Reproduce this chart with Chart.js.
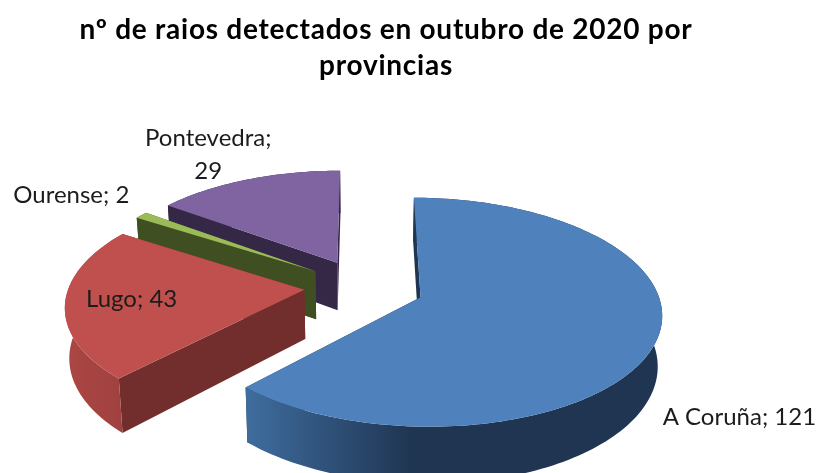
<!DOCTYPE html>
<html>
<head>
<meta charset="utf-8">
<style>
html, body { margin: 0; padding: 0; background: #fff; overflow: hidden; }
#wrap { width: 816px; height: 473px; }
</style>
<script src="https://cdn.jsdelivr.net/npm/chart.js@4/dist/chart.umd.min.js"></script>
</head>
<body>
<div id="wrap"><canvas id="chart"></canvas></div>
<script>
const provincias = ['A Coruña', 'Lugo', 'Ourense', 'Pontevedra'];
const raios = [121, 43, 2, 29];
const titulo = ['nº de raios detectados en outubro de 2020 por', 'provincias'];

const coresTopo = ['#4f81bd', '#c0504d', '#9bbb59', '#8064a2'];
const coresRadial = ['#1f3552', '#722e2c', '#3f4f22', '#352847'];
const coresArcoEsq = ['#3f6d9f', '#ab4643', '#3f4f22', '#352847'];
const coresArcoDir = ['#1f3552', '#a04140', '#3f4f22', '#352847'];

// perspectiva do prato
const explosao = [0.26, 0.25, 0.25, 0.25];
const fuga = 0.13;
const escalaX = 1.262;
const escalaY = 0.588;
const fundo = 49;
const encolheBase = 0.985;
const deslocX = -23;

// etiquetas: raio relativo da fatia e ajuste em px
const etiquetas = [
  { raio: 1, dx: 83, dy: 76, linhas: ['A Coruña; 121'] },
  { raio: 0.7, dx: -6, dy: 0, linhas: ['Lugo; 43'] },
  { raio: 1, dx: -70, dy: -20, linhas: ['Ourense; 2'] },
  { raio: 1, dx: -39, dy: -25, linhas: ['Pontevedra;', '29'] }
];

// passa um ponto do plano da tarte para o ecrã
function projetar(arc, u, v, baixo) {
  const w = 1 - fuga * v;
  const R = arc.outerRadius;
  const base = baixo ? encolheBase : 1;
  return {
    x: arc.x + deslocX + base * escalaX * R * u / w,
    y: arc.y + escalaY * R * v / w + (baixo ? fundo / w : 0)
  };
}

function contorno(ctx, pts) {
  ctx.beginPath();
  pts.forEach((p, i) => i ? ctx.lineTo(p.x, p.y) : ctx.moveTo(p.x, p.y));
  ctx.closePath();
}

function desenharFatia(ctx, arc, i) {
  const meio = (arc.startAngle + arc.endAngle) / 2;
  const cu = Math.cos(meio) * explosao[i];
  const cv = Math.sin(meio) * explosao[i];
  const n = Math.max(4, Math.ceil((arc.endAngle - arc.startAngle) * 40));
  const borda = [];
  for (let k = 0; k <= n; k++) {
    const a = arc.startAngle + (arc.endAngle - arc.startAngle) * k / n;
    borda.push([cu + Math.cos(a), cv + Math.sin(a)]);
  }
  const cima = borda.map(p => projetar(arc, p[0], p[1], false));
  const baixo = borda.map(p => projetar(arc, p[0], p[1], true));
  const bico = projetar(arc, cu, cv, false);
  const bicoB = projetar(arc, cu, cv, true);

  // paredes radiais
  ctx.fillStyle = coresRadial[i];
  contorno(ctx, [bico, cima[0], baixo[0], bicoB]);
  ctx.fill();
  contorno(ctx, [bico, cima[n], baixo[n], bicoB]);
  ctx.fill();

  // parede curva com degradê
  const xs = cima.map(p => p.x);
  const xMin = Math.min(...xs);
  const xMax = Math.max(...xs);
  const grad = ctx.createLinearGradient(xMin, 0, xMin + (xMax - xMin) * (i === 0 ? 0.4 : 1), 0);
  grad.addColorStop(0, coresArcoEsq[i]);
  grad.addColorStop(1, coresArcoDir[i]);
  ctx.fillStyle = grad;
  contorno(ctx, cima.concat(baixo.slice().reverse()));
  ctx.fill();

  // topo
  ctx.fillStyle = coresTopo[i];
  contorno(ctx, [bico].concat(cima));
  ctx.fill();
}

const tarte3d = {
  id: 'tarte3d',
  beforeDraw(chart) {
    // o título do original é mais espaçado
    chart.ctx.letterSpacing = '0.75px';
  },
  beforeDatasetsDraw(chart) {
    const ctx = chart.ctx;
    const arcs = chart.getDatasetMeta(0).data;
    // de trás para a frente
    [3, 2, 1, 0].forEach(i => desenharFatia(ctx, arcs[i], i));
    ctx.save();
    ctx.letterSpacing = '0px';
    ctx.fillStyle = '#1c1c1c';
    ctx.font = '24px Lato';
    ctx.textAlign = 'center';
    ctx.textBaseline = 'middle';
    etiquetas.forEach((e, i) => {
      const arc = arcs[i];
      const meio = (arc.startAngle + arc.endAngle) / 2;
      const p = projetar(arc,
        Math.cos(meio) * (explosao[i] + e.raio),
        Math.sin(meio) * (explosao[i] + e.raio), false);
      e.linhas.forEach((txt, j) => {
        const y = p.y + e.dy + (j - (e.linhas.length - 1) / 2) * 33;
        ctx.fillText(txt, p.x + e.dx, y);
      });
    });
    ctx.restore();
    return false;
  }
};

new Chart(document.getElementById('chart'), {
  type: 'pie',
  data: {
    labels: provincias,
    datasets: [{ data: raios, backgroundColor: coresTopo, borderWidth: 0 }]
  },
  options: {
    responsive: true,
    maintainAspectRatio: false,
    animation: false,
    rotation: 0,
    layout: { padding: { right: 44 } },
    plugins: {
      legend: { display: false },
      tooltip: { enabled: false },
      title: {
        display: true,
        text: titulo,
        color: '#000',
        font: { family: 'Lato', size: 28, weight: 'bold', lineHeight: 1.32 },
        padding: { top: 11, bottom: 15 }
      }
    }
  },
  plugins: [tarte3d]
});
</script>
</body>
</html>
